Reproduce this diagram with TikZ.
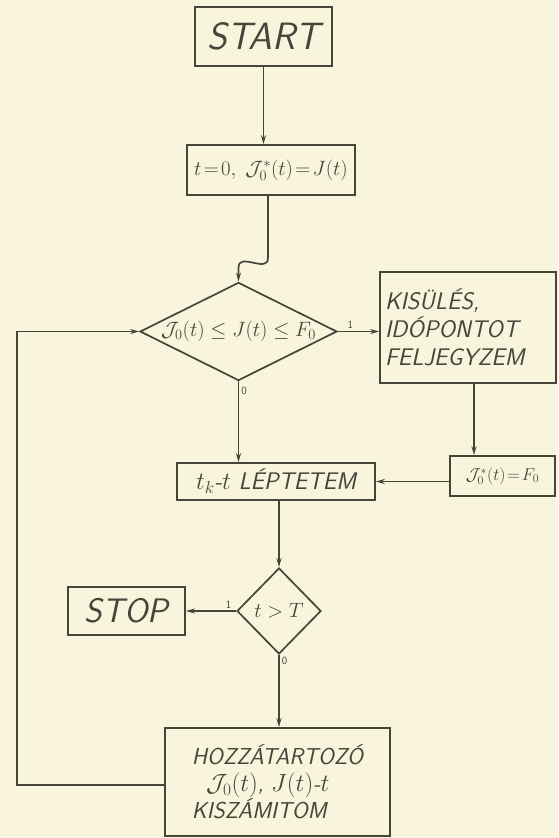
\documentclass[tikz,border=0pt]{standalone}
\usepackage{amsmath, amssymb}
\usepackage{fontspec}
\usepackage{tikz}
\usetikzlibrary{shapes.geometric, arrows.meta}
\definecolor{paper}{RGB}{249,244,220}
\definecolor{ink}{RGB}{68,70,58}

\begin{document}
\begin{tikzpicture}[x=1pt, y=1pt, line width=1.7pt, color=ink,
    >={Stealth[length=9pt, width=5pt]},
    box/.style={draw, rectangle, inner sep=0pt, font=\sffamily\itshape},
    cond/.style={draw, diamond, inner sep=0pt, aspect=2, font=\sffamily\itshape},
    flag/.style={font=\sffamily\fontsize{11}{12}\selectfont, inner sep=2pt}]
  \fill[paper] (0,0) rectangle (558,-838);
  \useasboundingbox (0,0) rectangle (558,-838);
  % Dobozok
  \node[box, minimum width=137pt, minimum height=59pt, font=\sffamily\itshape\fontsize{38}{40}\selectfont] (start) at (263.5,-36.5) {START};
  \node[box, minimum width=168pt, minimum height=50pt, font=\fontsize{20}{24}\selectfont] (init) at (271,-170) {$t\!=\!0,\; \mathcal{J}^{*}_{0}(t)\!=\!J(t)$};
  \node[cond, minimum width=197pt, minimum height=81pt, font=\fontsize{20}{22}\selectfont] (test) at (238.5,-331.5) {$\mathcal{J}_{0}(t)\leq J(t)\leq F_{0}$};
  \node[box, minimum width=176pt, minimum height=111pt, align=left, text width=166pt, font=\sffamily\itshape\fontsize{24}{28}\selectfont] (record) at (468,-327.5) {KISÜLÉS,\\IDÓPONTOT\\FELJEGYZEM};
  \node[box, minimum width=105pt, minimum height=40pt, font=\fontsize{17}{20}\selectfont] (reset) at (502.5,-476) {$\mathcal{J}^{*}_{0}(t)\!=\!F_{0}$};
  \node[box, minimum width=198pt, minimum height=37pt, font=\sffamily\itshape\fontsize{24}{26}\selectfont] (stepbox) at (276,-481.5) {$t_k$-$t$ LÉPTETEM};
  \node[cond, minimum width=84pt, minimum height=86pt, aspect=1, font=\fontsize{20}{22}\selectfont] (check) at (279,-611) {$t>T$};
  \node[box, minimum width=117pt, minimum height=48pt, font=\sffamily\itshape\fontsize{34}{36}\selectfont] (stop) at (126.5,-611) {STOP};
  \node[box, minimum width=225pt, minimum height=108pt, align=left, font=\sffamily\itshape\fontsize{23}{27}\selectfont] (calc) at (277.5,-782) {HOZZÁTARTOZÓ\\\ \ $\mathcal{J}_{0}(t)$, $J(t)$-$t$\\KISZÁMITOM};
  % Kapcsolatok
  \draw[->] (start.south) -- (start.south |- init.north);
  \draw[->] ([xshift=-3pt]init.south) -- ++(0,-62) .. controls +(0,-16) and +(0,16) .. ([yshift=14pt]test.north) -- (test.north);
  \draw[->] (test.east) -- (test.east -| record.west) node[flag, pos=0.3, above] {1};
  \draw[->] (test.south) -- (test.south |- stepbox.north) node[flag, pos=0.12, right] {0};
  \draw[->] ([xshift=6pt]record.south) -- ([xshift=6pt]record.south |- reset.north);
  \draw[->] (stepbox.east -| reset.west) -- (stepbox.east);
  \draw[->] (stepbox.south -| check.north) -- (check.north);
  \draw[->] (check.west) -- (stop.east) node[flag, pos=0.15, above] {1};
  \draw[->] (check.south) -- (calc.north -| check.south) node[flag, pos=0.08, right] {0};
  % Visszacsatolas
  \coordinate (back) at (17,-785);
  \draw[->] (back -| calc.west) -- (back) |- (test.west);
\end{tikzpicture}
\end{document}
